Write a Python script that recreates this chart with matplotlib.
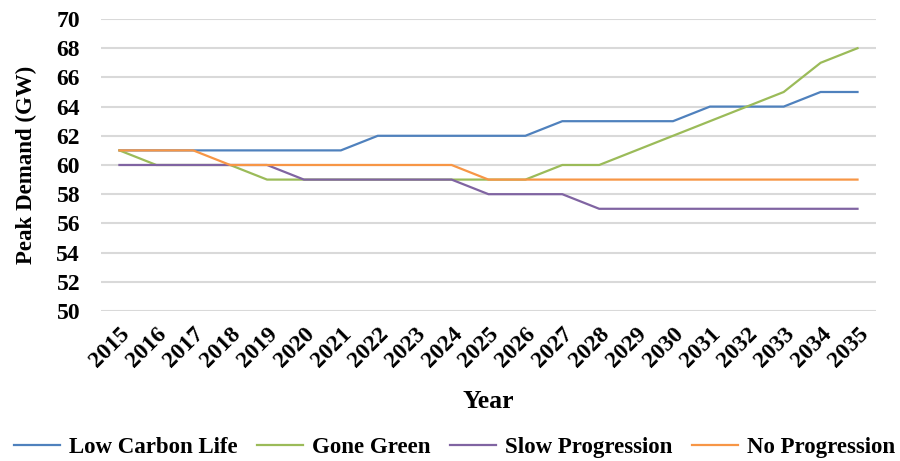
import matplotlib
matplotlib.use("Agg")
import matplotlib.pyplot as plt

# Data
years = [str(y) for y in range(2015, 2036)]
low_carbon_life = [61, 61, 61, 61, 61, 61, 61, 62, 62, 62, 62, 62, 63, 63, 63, 63, 64, 64, 64, 65, 65]
gone_green = [61, 60, 60, 60, 59, 59, 59, 59, 59, 59, 59, 59, 60, 60, 61, 62, 63, 64, 65, 67, 68]
slow_progression = [60, 60, 60, 60, 60, 59, 59, 59, 59, 59, 58, 58, 58, 57, 57, 57, 57, 57, 57, 57, 57]
no_progression = [61, 61, 61, 60, 60, 60, 60, 60, 60, 60, 59, 59, 59, 59, 59, 59, 59, 59, 59, 59, 59]
y_ticks = list(range(50, 72, 2))

plt.rcParams['font.family'] = ['Liberation Serif', 'DejaVu Serif']
plt.rcParams['font.weight'] = 'bold'

fig = plt.figure(figsize=(9, 4.61), dpi=100)
ax = fig.add_axes([0.1122, 0.3254, 0.8611, 0.6334])

x = list(range(len(years)))
ax.plot(x, low_carbon_life, color="#4F81BD", linewidth=1.6, label="Low Carbon Life")
ax.plot(x, gone_green, color="#9BBB59", linewidth=1.6, label="Gone Green")
ax.plot(x, slow_progression, color="#8064A2", linewidth=1.6, label="Slow Progression")
ax.plot(x, no_progression, color="#F79646", linewidth=1.6, label="No Progression")

ax.set_xlim(-0.5, len(years) - 0.5)
ax.set_ylim(50, 70)
ax.set_yticks(y_ticks)
ax.set_yticklabels([str(v) for v in y_ticks], fontsize=17, fontweight="bold")
ax.set_xticks(x)
ax.set_xticklabels(years, fontsize=17, fontweight="bold", rotation=45,
                   ha="right", va="top", rotation_mode="anchor")
ax.tick_params(length=0)
ax.tick_params(axis="y", pad=15)
ax.tick_params(axis="x", pad=9)

ax.grid(axis="y", color="#D9D9D9", linewidth=1.5)
ax.set_axisbelow(True)
for s in ax.spines.values():
    s.set_visible(False)

ax.set_ylabel("Peak Demand (GW)", fontsize=16.5, fontweight="bold", labelpad=14)
ax.set_xlabel("Year", fontsize=18.5, fontweight="bold", labelpad=13)

fig.legend(loc="center", bbox_to_anchor=(0.505, 0.03), ncol=4, frameon=False,
           prop={"size": 16.5, "weight": "bold"}, handlelength=2.0,
           handletextpad=0.4, columnspacing=0.85)

fig.savefig("out.png", dpi=100)
